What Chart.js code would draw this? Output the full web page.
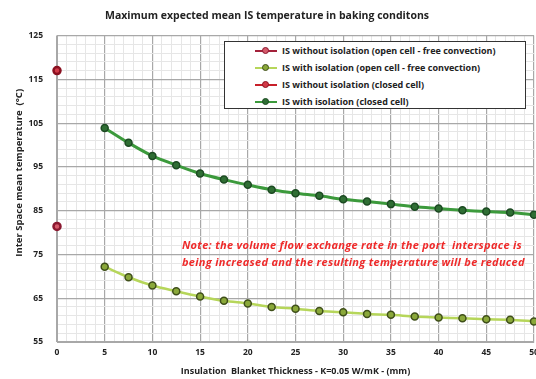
<!DOCTYPE html>
<html>
<head>
<meta charset="utf-8">
<script src="https://cdn.jsdelivr.net/npm/chart.js@4.4.0/dist/chart.umd.min.js"></script>
<style>
body { margin: 0; background: #fff; }
#wrap { position: relative; width: 536px; height: 379px; }
#legend { position: absolute; left: 224px; top: 41px; width: 300px; height: 66px; border: 1.5px solid #333; background: #fff; }
.lg-row { height: 17px; display: flex; align-items: center; padding-left: 30px; font: bold 9px "Open Sans"; color: #222; white-space: nowrap; }
.lg-sym { position: relative; width: 22px; height: 10px; margin-right: 5px; }
.lg-line { position: absolute; left: 0; right: 0; top: 4px; height: 2.5px; }
.lg-dot { position: absolute; left: 7px; top: 1.5px; width: 5px; height: 5px; border-radius: 50%; border: 1px solid; }
#note { position: absolute; left: 182px; top: 236px; color: #ee2a2a; font: italic bold 11px "Open Sans"; line-height: 17px; letter-spacing: 0.3px; white-space: nowrap; }
</style>
</head>
<body>
<div id="wrap">
  <canvas id="isTempChart" width="536" height="379"></canvas>
  <div id="legend"></div>
  <div id="note">Note: the volume flow exchange rate in the port&nbsp; interspace is<br>being increased and the resulting temperature will be reduced</div>
</div>
<script>
// insulation thickness (mm)
const thicknessBare = [0];
const thicknessIns = [5, 7.5, 10, 12.5, 15, 17.5, 20, 22.5, 25, 27.5, 30, 32.5, 35, 37.5, 40, 42.5, 45, 47.5, 50];

// mean inter space temperature (C)
const openBare = [81.4];
const openIns = [72.2, 69.8, 67.9, 66.6, 65.4, 64.4, 63.8, 63.0, 62.6, 62.1, 61.8, 61.4, 61.2, 60.8, 60.6, 60.4, 60.2, 60.1, 59.7];
const closedBare = [117.0];
const closedIns = [103.9, 100.5, 97.5, 95.4, 93.5, 92.1, 90.9, 89.8, 89.0, 88.4, 87.6, 87.1, 86.5, 85.9, 85.5, 85.1, 84.8, 84.6, 84.1];

const labels = [
  'IS without isolation (open cell - free convection)',
  'IS with isolation (open cell - free convection)',
  'IS without isolation (closed cell)',
  'IS with isolation (closed cell)'
];

function pts(xs, ys) {
  return xs.map((x, i) => ({ x: x, y: ys[i] }));
}

const ctx = document.getElementById('isTempChart');

const chart = new Chart(ctx, {
  type: 'line',
  data: {
    datasets: [{
      label: labels[0],
      data: pts(thicknessBare, openBare),
      borderColor: '#a3213a',
      backgroundColor: '#c33a4e',
      pointBorderColor: '#8a1830',
      pointBackgroundColor: '#d55a6a',
      pointRadius: 3.5,
      borderWidth: 2.5
    }, {
      label: labels[1],
      data: pts(thicknessIns, openIns),
      borderColor: '#b6d65a',
      backgroundColor: '#8fb83a',
      pointBorderColor: '#3f4f1a',
      pointBackgroundColor: '#8aa83a',
      pointRadius: 3.5,
      pointBorderWidth: 1.5,
      borderWidth: 2.5,
      tension: 0.3
    }, {
      label: labels[2],
      data: pts(thicknessBare, closedBare),
      borderColor: '#c8202a',
      backgroundColor: '#c8202a',
      pointBorderColor: '#8a1020',
      pointBackgroundColor: '#d23a48',
      pointRadius: 3.5,
      borderWidth: 2.5
    }, {
      label: labels[3],
      data: pts(thicknessIns, closedIns),
      borderColor: '#3c9a3c',
      backgroundColor: '#2a6a30',
      pointBorderColor: '#1c4a22',
      pointBackgroundColor: '#2f6e34',
      pointRadius: 3.5,
      pointBorderWidth: 1.5,
      borderWidth: 3,
      tension: 0.3
    }]
  },
  options: {
    responsive: false,
    animation: false,
    clip: false,
    layout: { autoPadding: false, padding: { top: 2, right: 2, left: 0, bottom: 0 } },
    plugins: {
      legend: { display: false },
      tooltip: { enabled: false },
      title: {
        display: true,
        text: 'Maximum expected mean IS temperature in baking conditons',
        color: '#222',
        font: { family: 'Open Sans', weight: 'bold', size: 10.5 },
        padding: { top: 8, bottom: 13 }
      }
    },
    scales: {
      x: {
        type: 'linear',
        min: 0,
        max: 50,
        afterFit: s => { s.height = 37; s.paddingRight = 0; s.paddingLeft = 0; },
        ticks: {
          stepSize: 1,
          autoSkip: false,
          maxRotation: 0,
          padding: 5,
          color: '#222',
          font: { family: 'Open Sans', weight: 'bold', size: 8.5 },
          callback: v => (v % 5 === 0 ? v : '')
        },
        grid: {
          drawTicks: false,
          color: c => (c.tick && c.tick.value % 5 === 0 ? '#a8a8a8' : '#e6e6e6'),
          lineWidth: c => (c.tick && c.tick.value % 5 === 0 ? 1.2 : 1)
        },
        border: { color: '#a8a8a8' },
        title: {
          display: true,
          text: 'Insulation  Blanket Thickness - K=0.05 W/mK - (mm)',
          color: '#222',
          font: { family: 'Open Sans', weight: 'bold', size: 9 },
          padding: { top: 0, bottom: 2 }
        }
      },
      y: {
        min: 55,
        max: 125,
        afterFit: s => { s.width = 57; },
        ticks: {
          stepSize: 2,
          autoSkip: false,
          padding: 14,
          color: '#222',
          font: { family: 'Open Sans', weight: 'bold', size: 8.5 },
          callback: v => ((v - 55) % 10 === 0 ? v : '')
        },
        grid: {
          drawTicks: false,
          color: c => (c.tick && (c.tick.value - 55) % 10 === 0 ? '#a8a8a8' : '#e6e6e6'),
          lineWidth: c => (c.tick && (c.tick.value - 55) % 10 === 0 ? 1.2 : 1)
        },
        border: { color: '#a8a8a8' },
        title: {
          display: true,
          // leading spaces lift the label a little above the axis centre, as in the original
          text: '             Inter Space mean temperature  (\u00b0C)',
          color: '#222',
          font: { family: 'Open Sans', weight: 'bold', size: 9.5 },
          padding: { top: 14, bottom: 0 }
        }
      }
    }
  }
});

// legend box inside the plot area, built from the datasets
const lg = document.getElementById('legend');
chart.data.datasets.forEach(ds => {
  const row = document.createElement('div');
  row.className = 'lg-row';
  row.innerHTML =
    '<span class="lg-sym"><span class="lg-line" style="background:' + ds.borderColor + '"></span>' +
    '<span class="lg-dot" style="background:' + ds.pointBackgroundColor + ';border-color:' + ds.pointBorderColor + '"></span></span>' +
    '<span>' + ds.label + '</span>';
  lg.appendChild(row);
});
</script>
</body>
</html>
